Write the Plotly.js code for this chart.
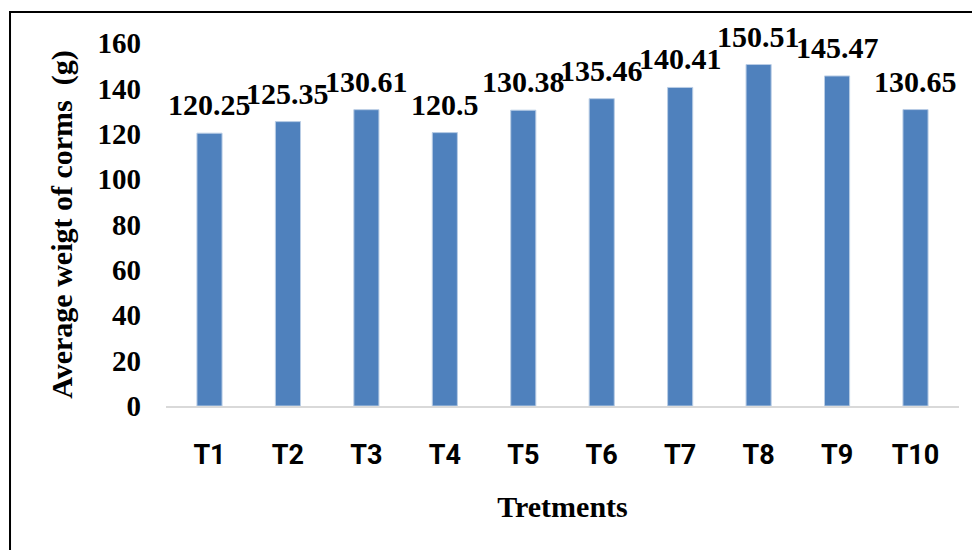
<!DOCTYPE html>
<html>
<head>
<meta charset="utf-8">
<script src="https://cdn.plot.ly/plotly-3.0.1.min.js"></script>
<style>
html,body{margin:0;padding:0;background:#fff;}
#chart{width:972px;height:550px;}
</style>
</head>
<body>
<div id="chart"></div>
<script>
const categories = ["T1","T2","T3","T4","T5","T6","T7","T8","T9","T10"];
const weights = [120.25,125.35,130.61,120.5,130.38,135.46,140.41,150.51,145.47,130.65];
const valueLabels = ["120.25","125.35","130.61","120.5","130.38","135.46","140.41","150.51","145.47","130.65"];
const yTicks = [0,20,40,60,80,100,120,140,160];

const serif = "Liberation Serif, Times New Roman, serif";

const trace = {
  type: "bar",
  x: categories,
  y: weights,
  marker: {color: "#4F81BD", line: {color: "#B9CDE5", width: 1}},
  hoverinfo: "x+y"
};

const annotations = categories.map((c, i) => ({
  x: c, y: weights[i], xref: "x", yref: "y",
  text: valueLabels[i], showarrow: false,
  yanchor: "bottom", xanchor: "center", yshift: 10,
  font: {family: serif, size: 30, color: "#000", weight: "bold"}
}));

const layout = {
  width: 972, height: 550,
  margin: {l: 166, r: 13, t: 43, b: 144},
  paper_bgcolor: "#fff", plot_bgcolor: "#fff",
  showlegend: false,
  bargap: 0.68,
  xaxis: {
    type: "category",
    showgrid: false, zeroline: false,
    showline: true, linecolor: "#D9D9D9", linewidth: 2,
    ticks: "", ticklabelstandoff: 24,
    tickfont: {family: "Roboto, DejaVu Sans Condensed, sans-serif", size: 27, color: "#000", weight: "bold"},
    title: {text: "Tretments", standoff: 26, font: {family: serif, size: 30, color: "#000", weight: "bold"}}
  },
  yaxis: {
    range: [0, 160],
    tickvals: yTicks,
    showgrid: false, zeroline: false, showline: false,
    ticks: "", ticklabelstandoff: 24,
    tickfont: {family: serif, size: 29, color: "#000", weight: "bold"},
    title: {text: "Average weigt of corms  (g)", standoff: 16, font: {family: serif, size: 30, color: "#000", weight: "bold"}}
  },
  annotations: annotations,
  shapes: [{
    type: "rect", xref: "paper", yref: "paper",
    x0: -0.1967, x1: 1.2, y0: -0.6, y1: 1.0854,
    line: {color: "#000", width: 2}, fillcolor: "rgba(0,0,0,0)", layer: "below"
  }]
};

Plotly.newPlot("chart", [trace], layout, {displayModeBar: false, staticPlot: true});
</script>
</body>
</html>
